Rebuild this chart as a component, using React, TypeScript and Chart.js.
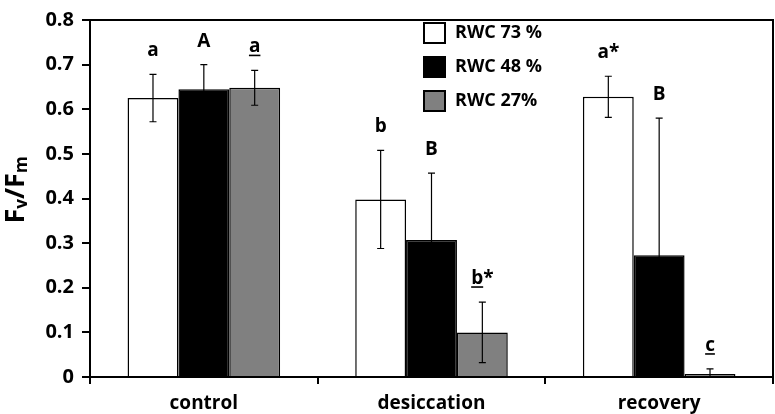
import React, { useEffect, useRef } from "react";
import { Chart, registerables } from "chart.js";

Chart.register(...registerables);

const categories = ["control", "desiccation", "recovery"];
const seriesNames = ["RWC 73 %", "RWC 48 %", "RWC 27%"];
const rwc73 = [0.625, 0.398, 0.628];
const rwc48 = [0.645, 0.307, 0.273];
const rwc27 = [0.648, 0.1, 0.007];
const err73 = [0.053, 0.11, 0.046];
const err48 = [0.055, 0.15, 0.307];
const err27 = [0.039, 0.068, 0.011];
const letters73 = ["a", "b", "a*"];
const letters48 = ["A", "B", "B"];
const letters27 = ["a", "b*", "c"];
const underline73 = [false, false, false];
const underline48 = [false, false, false];
const underline27 = [true, true, true];
const yTicks = [0, 0.1, 0.2, 0.3, 0.4, 0.5, 0.6, 0.7, 0.8];

const FONT = "'Open Sans', sans-serif";
const fills = ["#ffffff", "#000000", "#808080"];

export default function App() {
  const ref = useRef<HTMLCanvasElement | null>(null);

  useEffect(() => {
    document.body.style.margin = "0";
    const canvas = ref.current;
    if (!canvas) return;
    const errs = [err73, err48, err27];
    const letters = [letters73, letters48, letters27];
    const unders = [underline73, underline48, underline27];

    const overlay = {
      id: "overlay",
      afterDatasetsDraw(chart: any) {
        const ctx = chart.ctx as CanvasRenderingContext2D;
        const ys = chart.scales.y;
        const area = chart.chartArea;
        ctx.save();
        // frame top and right
        ctx.strokeStyle = "#000";
        ctx.lineWidth = 2;
        ctx.beginPath();
        ctx.moveTo(area.left, area.top);
        ctx.lineTo(area.right, area.top);
        ctx.lineTo(area.right, area.bottom);
        ctx.stroke();

        // error bars and letters
        chart.data.datasets.forEach((ds: any, di: number) => {
          const meta = chart.getDatasetMeta(di);
          meta.data.forEach((bar: any, i: number) => {
            const v = ds.data[i];
            const e = errs[di][i];
            const x = bar.x;
            const yTop = ys.getPixelForValue(v + e);
            const yBot = ys.getPixelForValue(Math.max(0, v - e));
            ctx.strokeStyle = "#000";
            ctx.lineWidth = 1.2;
            ctx.beginPath();
            ctx.moveTo(x, yTop);
            ctx.lineTo(x, yBot);
            ctx.moveTo(x - 3.5, yTop);
            ctx.lineTo(x + 3.5, yTop);
            ctx.moveTo(x - 3.5, yBot);
            ctx.lineTo(x + 3.5, yBot);
            ctx.stroke();

            const txt = letters[di][i];
            ctx.font = `700 19px ${FONT}`;
            ctx.fillStyle = "#000";
            ctx.textBaseline = "alphabetic";
            ctx.textAlign = "left";
            const w = ctx.measureText(txt).width;
            const base = yTop - 18;
            const x0 = x - w / 2;
            ctx.fillText(txt, x0, base);
            if (unders[di][i]) {
              const firstW = ctx.measureText(txt.charAt(0)).width;
              ctx.lineWidth = 1.6;
              ctx.beginPath();
              ctx.moveTo(x0, base + 3);
              ctx.lineTo(x0 + firstW, base + 3);
              ctx.stroke();
            }
          });
        });

        // legend
        const lx = 424;
        const lys = [33, 67, 101];
        seriesNames.forEach((name, i) => {
          ctx.fillStyle = fills[i];
          ctx.fillRect(lx, lys[i] - 10, 21, 20);
          ctx.strokeStyle = "#000";
          ctx.lineWidth = 2;
          ctx.strokeRect(lx, lys[i] - 10, 21, 20);
          ctx.fillStyle = "#000";
          ctx.font = `700 18px ${FONT}`;
          ctx.textAlign = "left";
          ctx.textBaseline = "middle";
          ctx.fillText(name, 455, lys[i]);
        });

        // y title: Fv/Fm
        ctx.translate(16, 190);
        ctx.rotate(-Math.PI / 2);
        const big = `700 27px ${FONT}`;
        const small = `700 17px ${FONT}`;
        const parts = [
          { t: "F", f: big, dy: 0 },
          { t: "v", f: small, dy: 6 },
          { t: "/F", f: big, dy: 0 },
          { t: "m", f: small, dy: 6 },
        ];
        let total = 0;
        parts.forEach((p) => {
          ctx.font = p.f;
          total += ctx.measureText(p.t).width;
        });
        let cx = -total / 2;
        ctx.textBaseline = "middle";
        ctx.textAlign = "left";
        parts.forEach((p) => {
          ctx.font = p.f;
          ctx.fillText(p.t, cx, p.dy);
          cx += ctx.measureText(p.t).width;
        });
        ctx.restore();
      },
    };

    const chart = new Chart(canvas, {
      type: "bar",
      data: {
        labels: categories,
        datasets: [
          { label: seriesNames[0], data: rwc73, backgroundColor: fills[0] },
          { label: seriesNames[1], data: rwc48, backgroundColor: fills[1] },
          { label: seriesNames[2], data: rwc27, backgroundColor: fills[2] },
        ].map((d) => ({
          ...d,
          borderColor: "#000",
          borderWidth: 1.5,
          categoryPercentage: 0.67,
          barPercentage: 1,
        })),
      },
      options: {
        responsive: false,
        animation: false,
        events: [],
        layout: { padding: { left: 0, right: 2, top: 9, bottom: 0 } },
        plugins: { legend: { display: false }, tooltip: { enabled: false } },
        scales: {
          x: {
            offset: true,
            grid: {
              offset: true,
              drawOnChartArea: false,
              drawTicks: true,
              tickLength: 7,
              color: "#000",
              lineWidth: 2,
            },
            border: { display: true, color: "#000", width: 2 },
            ticks: {
              color: "#000",
              font: { family: FONT, size: 19, weight: "700" },
              padding: 8,
            },
            afterFit(scale: any) {
              scale.height = 37;
            },
          },
          y: {
            min: 0,
            max: 0.8,
            afterBuildTicks(scale: any) {
              scale.ticks = yTicks.map((v) => ({ value: v }));
            },
            grid: {
              drawOnChartArea: false,
              drawTicks: true,
              tickLength: 8,
              color: "#000",
              lineWidth: 2,
            },
            border: { display: true, color: "#000", width: 2 },
            ticks: {
              color: "#000",
              font: { family: FONT, size: 20, weight: "700" },
              padding: 8,
              callback: (v: any) => (Number(v) === 0 ? "0" : Number(v).toFixed(1)),
            },
            afterFit(scale: any) {
              scale.width = 90;
            },
          },
        },
      },
      plugins: [overlay],
    } as any);
    return () => chart.destroy();
  }, []);

  return (
    <div style={{ width: 775, height: 414 }}>
      <canvas ref={ref} width={775} height={414} />
    </div>
  );
}
